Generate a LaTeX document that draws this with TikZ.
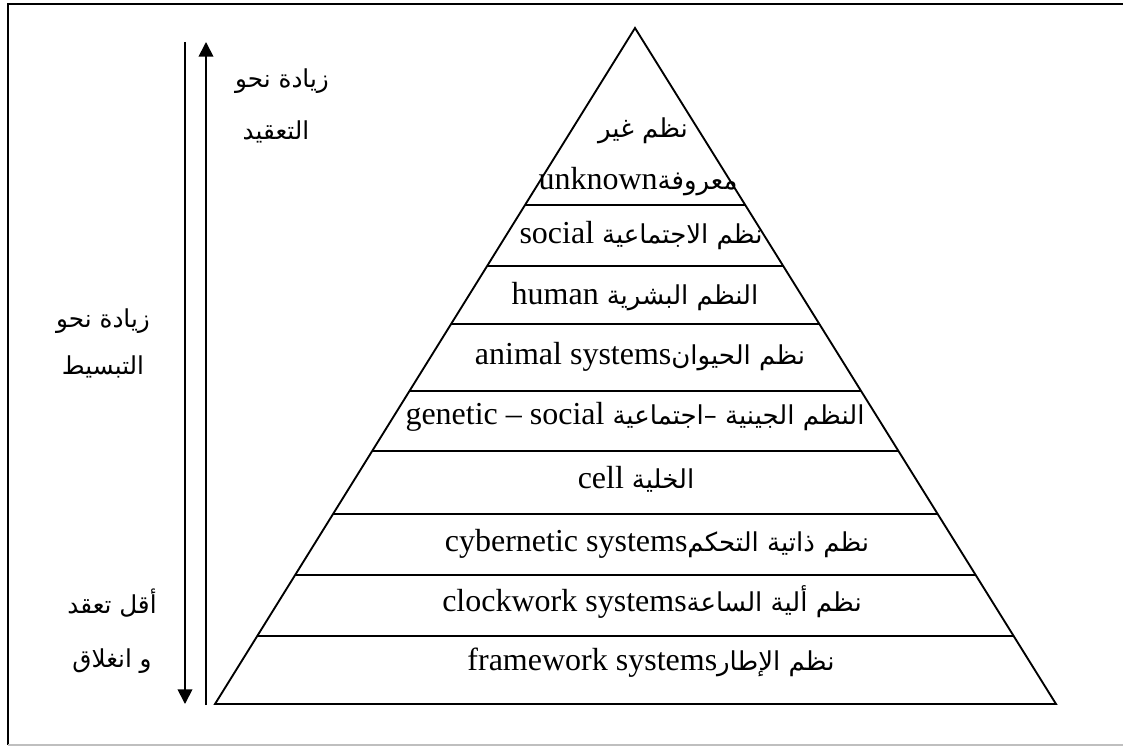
\documentclass[tikz,border=0pt]{standalone}
\usepackage{fontspec}
\setmainfont{Liberation Serif}
\newfontfamily\arabicfont[Script=Arabic]{DejaVu Sans}
\TeXXeTstate=1
\usetikzlibrary{arrows.meta,calc}

% Arabic run inside a pyramid label
\newcommand\artxt[1]{{\arabicfont\fontsize{19.5}{22}\selectfont\beginR #1\endR}}
% Arabic run for the side captions
\newcommand\sidetxt[1]{{\arabicfont\fontsize{18.5}{22}\selectfont\beginR #1\endR}}

\begin{document}
\begin{tikzpicture}[x=0.75pt,y=-0.75pt,
  frame/.style={line width=1.6pt},
  edge/.style={line width=1.4pt},
  arrowline/.style={line width=1.3pt,-{Triangle[length=11pt,width=11pt]}},
  lat/.style={font=\fontsize{24}{28}\selectfont, inner sep=0pt, anchor=base},
  side/.style={inner sep=0pt, anchor=base},
]
\useasboundingbox (0,0) rectangle (1123,749);

% page frame
\draw[frame] (1123,4) -- (8,4) -- (8,745);
\draw[line width=1pt, black!25] (8,745) -- (1123,745);

% pyramid outline
\coordinate (apex) at (635,28);
\coordinate (bl) at (215,704);
\coordinate (br) at (1056,704);
\draw[edge, line join=miter] (bl) -- (apex) -- (br) -- cycle;

% level dividers
\foreach \t in {0.2618,0.3521,0.4379,0.5370,0.6257,0.7189,0.8092,0.8994}
  \draw[edge] ($(apex)!\t!(bl)$) -- ($(apex)!\t!(br)$);

% level labels
\node[lat] (l9a) at (643,137) {\artxt{نظم غير}};
\node[lat] (l9b) at (638,189) {unknown\artxt{معروفة}};
\node[lat] (l8) at (641,243) {social \artxt{نظم الاجتماعية}};
\node[lat] (l7) at (635,304) {human \artxt{النظم البشرية}};
\node[lat] (l6) at (640,364) {animal systems\artxt{نظم الحيوان}};
\node[lat] (l5) at (635,424) {genetic -- social \artxt{النظم الجينية –اجتماعية}};
\node[lat] (l4) at (636,488) {cell \artxt{الخلية}};
\node[lat] (l3) at (657,551) {cybernetic systems\artxt{نظم ذاتية التحكم}};
\node[lat] (l2) at (652,611) {clockwork systems\artxt{نظم ألية الساعة}};
\node[lat] (l1) at (651,670) {framework systems\artxt{نظم الإطار}};

% direction arrows
\coordinate (dtop) at (185,42);
\coordinate (dbot) at (185,704);
\coordinate (ubot) at (206,705);
\coordinate (utop) at (206,42);
\draw[arrowline] (dtop) -- (dbot);
\draw[arrowline] (ubot) -- (utop);

% side captions
\node[side] (c1a) at (282,88) {\sidetxt{زيادة نحو}};
\node[side] (c1b) at (276,139) {\sidetxt{التعقيد}};
\node[side] (c2a) at (103,327) {\sidetxt{زيادة نحو}};
\node[side] (c2b) at (103,374) {\sidetxt{التبسيط}};
\node[side] (c3a) at (112,613) {\sidetxt{أقل تعقد}};
\node[side] (c3b) at (112,667) {\sidetxt{و انغلاق}};
\end{tikzpicture}
\end{document}
